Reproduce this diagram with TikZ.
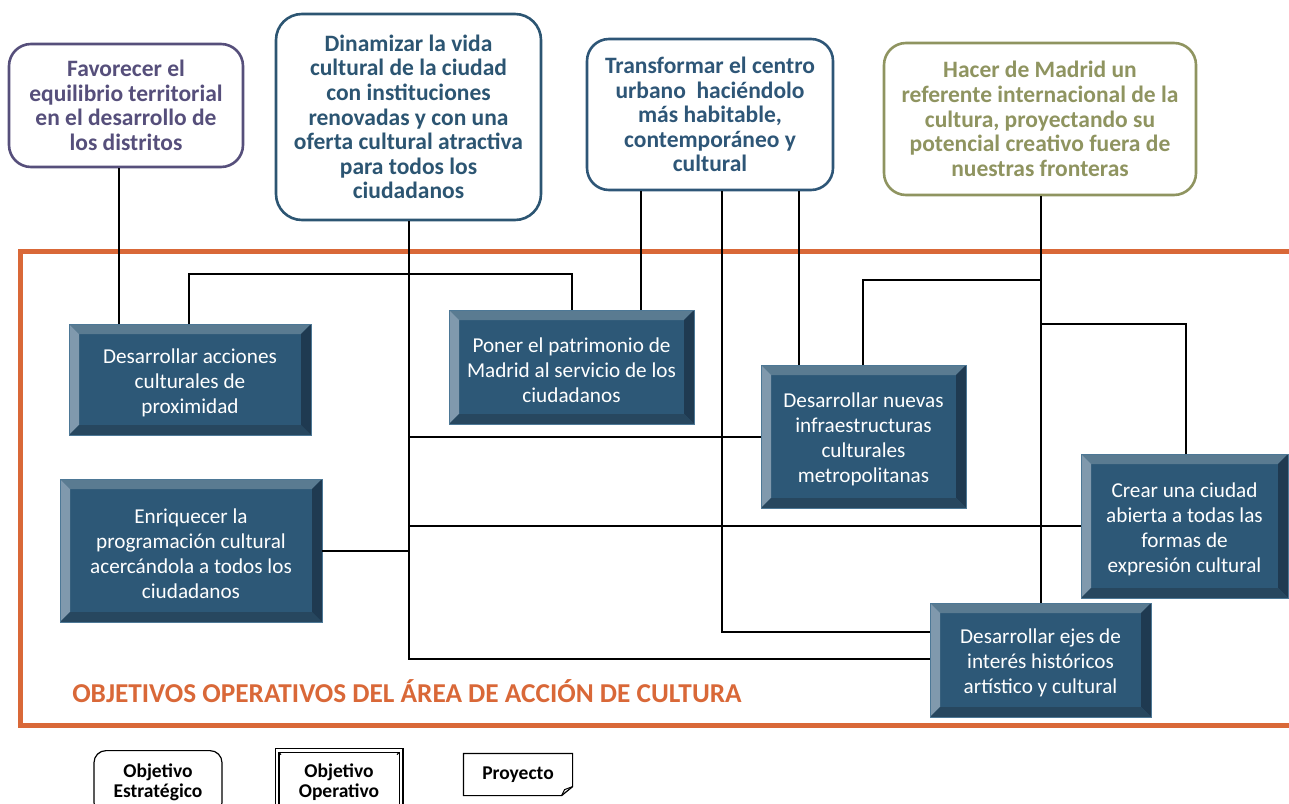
\documentclass[tikz,border=0pt]{standalone}
\usepackage{fontspec}
\setmainfont{Carlito}
\usetikzlibrary{calc}

\definecolor{favcol}{HTML}{564F7B}
\definecolor{dincol}{HTML}{2C5572}
\definecolor{tracol}{HTML}{2E5677}
\definecolor{haccol}{HTML}{8F9460}
\definecolor{framecol}{HTML}{D96838}
\definecolor{bevmid}{HTML}{2D5877}
\definecolor{bevtop}{HTML}{5A7B91}
\definecolor{bevleft}{HTML}{8099AD}
\definecolor{bevright}{HTML}{1F3A51}
\definecolor{bevbot}{HTML}{27475F}
\definecolor{bevline}{HTML}{4D7896}

\newcommand{\opsize}{\fontsize{21.2}{25}\selectfont}
\newcommand{\stsize}{\fontsize{23.5}{24.6}\selectfont\bfseries}
\newcommand{\legsize}{\fontsize{19.5}{20}\selectfont\bfseries}
% invisible strut that lowers the text block of the bevelled boxes a little
\newcommand{\oprule}{\rule{0pt}{21pt}}

\tikzset{
  stratbox/.style={rectangle, rounded corners=22pt, line width=2.6pt,
    fill=white, align=center, inner sep=0pt, font=\stsize},
  opbox/.style={rectangle, draw=bevline, line width=0.8pt, fill=bevmid,
    text=white, align=center, inner sep=0pt, font=\opsize,
    path picture={
      \path (path picture bounding box.north west) coordinate (pw)
            (path picture bounding box.north east) coordinate (pe)
            (path picture bounding box.south west) coordinate (qw)
            (path picture bounding box.south east) coordinate (qe);
      \fill[bevtop] (pw) -- (pe) -- ([shift={(-10pt,-10pt)}]pe)
        -- ([shift={(10pt,-10pt)}]pw) -- cycle;
      \fill[bevleft] (pw) -- (qw) -- ([shift={(10pt,10pt)}]qw)
        -- ([shift={(10pt,-10pt)}]pw) -- cycle;
      \fill[bevright] (pe) -- (qe) -- ([shift={(-10pt,10pt)}]qe)
        -- ([shift={(-10pt,-10pt)}]pe) -- cycle;
      \fill[bevbot] (qw) -- (qe) -- ([shift={(-10pt,10pt)}]qe)
        -- ([shift={(10pt,10pt)}]qw) -- cycle;
    }},
  link/.style={draw=black, line width=1.5pt},
  legbox/.style={align=center, font=\legsize, line width=1.2pt, inner xsep=0pt}
}

\begin{document}
\begin{tikzpicture}[x=1pt, y=-1pt]
\useasboundingbox (0,0) rectangle (1289,803);
\clip (0,0) rectangle (1289,803);

% area frame
\draw[framecol, line width=5.5pt] (20.5,251.5) rectangle (1330,725.5);
\node[font=\fontsize{27.3}{30}\selectfont\bfseries, text=framecol] (ttl) at (407,691)
  {OBJETIVOS OPERATIVOS DEL ÁREA DE ACCIÓN DE CULTURA};

% strategic objectives
\node[stratbox, draw=favcol, text=favcol, minimum width=234pt, minimum height=123pt]
  (fav) at (126,105.5) {Favorecer el\\equilibrio territorial\\en el desarrollo de\\los distritos};
\node[stratbox, draw=dincol, text=dincol, minimum width=265pt, minimum height=206pt, rounded corners=26pt]
  (din) at (408.5,117) {Dinamizar la vida\\cultural de la ciudad\\con instituciones\\renovadas y con una\\oferta cultural atractiva\\para todos los\\ciudadanos};
\node[stratbox, draw=tracol, text=tracol, minimum width=246pt, minimum height=151pt]
  (tra) at (710,114.5) {Transformar el centro\\urbano\ \ haciéndolo\\más habitable,\\contemporáneo y\\cultural};
\node[stratbox, draw=haccol, text=haccol, minimum width=312pt, minimum height=152pt]
  (hac) at (1040,119) {Hacer de Madrid un\\referente internacional de la\\cultura, proyectando su\\potencial creativo fuera de\\nuestras fronteras};

% operative objectives
\node[opbox, minimum width=242pt, minimum height=111pt] (opA) at (190,379.5)
  {\oprule Desarrollar acciones\\culturales de\\proximidad};
\node[opbox, minimum width=245pt, minimum height=114pt] (opB) at (571.5,367)
  {\oprule Poner el patrimonio de\\Madrid al servicio de los\\ciudadanos};
\node[opbox, minimum width=205pt, minimum height=143pt] (opC) at (863.5,436.5)
  {\oprule Desarrollar nuevas\\infraestructuras\\culturales\\metropolitanas};
\node[opbox, minimum width=262pt, minimum height=143pt] (opD) at (191,550.5)
  {\oprule Enriquecer la\\programación cultural\\acercándola a todos los\\ciudadanos};
\node[opbox, minimum width=207pt, minimum height=144pt] (opE) at (1184.5,526)
  {\oprule Crear una ciudad\\abierta a todas las\\formas de\\expresión cultural};
\node[opbox, minimum width=221pt, minimum height=114pt] (opF) at (1040.5,660)
  {\oprule Desarrollar ejes de\\interés históricos\\artístico y cultural};

% routing guides
\foreach \vx in {119,189,409,572,641,722,799,863,1041,1186}
  \coordinate (v\vx) at (\vx,0);
\foreach \hy in {274,280,324,437,526,551,632,659}
  \coordinate (h\hy) at (0,\hy);

% connectors
\draw[link] (v119 |- fav.south) -- (v119 |- opA.north);
\draw[link] (v189 |- opA.north) |- (v572 |- h274) -- (v572 |- opB.north);
\draw[link] (v409 |- din.south) |- (opF.west |- h659);
\draw[link] (v409 |- h437) -- (opC.west |- h437);
\draw[link] (v409 |- h526) -- (opE.west |- h526);
\draw[link] (opD.east |- h551) -- (v409 |- h551);
\draw[link] (v641 |- tra.south) -- (v641 |- opB.north);
\draw[link] (v722 |- tra.south) |- (opF.west |- h632);
\draw[link] (v799 |- tra.south) -- (v799 |- opC.north);
\draw[link] (v1041 |- hac.south) -- (v1041 |- opF.north);
\draw[link] (v1041 |- h280) -| (v863 |- opC.north);
\draw[link] (v1041 |- h324) -| (v1186 |- opE.north);

% legend
\node[legbox, draw, rounded corners=12pt, anchor=north, minimum width=128pt, inner ysep=13.5pt]
  (legest) at (158,750) {Objetivo\\Estratégico};
\node[legbox, draw, double, double distance=2.6pt, anchor=north, minimum width=124pt, inner ysep=13.5pt,
  path picture={
    \draw[line width=1pt] (path picture bounding box.north west) -- ++(4pt,-4pt)
      (path picture bounding box.north east) -- ++(-4pt,-4pt);
  }]
  (legop) at (339,750) {Objetivo\\Operativo};
\node[legbox, minimum width=108pt, minimum height=41pt] (legpr) at (518,774.5) {Proyecto};
\draw[line width=1.2pt] (legpr.north west) -- (legpr.north east)
  -- ([yshift=9pt]legpr.south east) -- ([xshift=-11pt]legpr.south east)
  -- (legpr.south west) -- cycle;
\draw[line width=1pt] ([xshift=-11pt]legpr.south east) -- ([shift={(-8pt,6pt)}]legpr.south east)
  -- ([yshift=9pt]legpr.south east);
\end{tikzpicture}
\end{document}
